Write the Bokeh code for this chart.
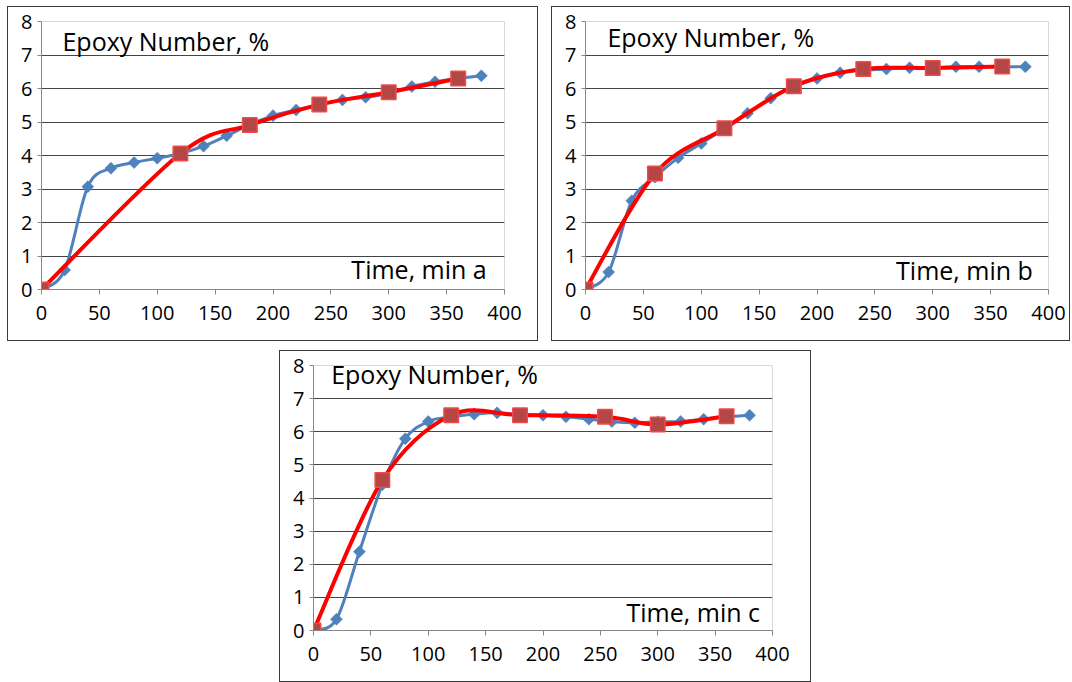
import numpy as np
from bokeh.plotting import figure
from bokeh.models import Label, Spacer, FixedTicker, Range1d
from bokeh.layouts import row, column
from bokeh.embed import file_html
from bokeh.resources import INLINE

# ---------------- data ----------------
time_blue = [0, 20, 40, 60, 80, 100, 120, 140, 160, 180, 200, 220, 240, 260, 280, 300, 320, 340, 360, 380]

epoxy_a_blue = [0, 0.58, 3.07, 3.62, 3.79, 3.92, 4.06, 4.28, 4.59, 4.92, 5.19, 5.36, 5.52, 5.66, 5.74, 5.86, 6.06, 6.2, 6.3, 6.38]
time_a_red = [0, 120, 180, 240, 300, 360]
epoxy_a_red = [0, 4.06, 4.91, 5.52, 5.89, 6.3]

epoxy_b_blue = [0, 0.52, 2.65, 3.35, 3.93, 4.36, 4.8, 5.26, 5.71, 6.05, 6.3, 6.47, 6.55, 6.58, 6.62, 6.62, 6.65, 6.65, 6.65, 6.65]
time_b_red = [0, 60, 120, 180, 240, 300, 360]
epoxy_b_red = [0, 3.46, 4.81, 6.07, 6.58, 6.61, 6.66]

epoxy_c_blue = [0, 0.34, 2.38, 4.4, 5.79, 6.31, 6.45, 6.53, 6.57, 6.52, 6.5, 6.45, 6.38, 6.31, 6.27, 6.3, 6.31, 6.38, 6.45, 6.5]
time_c_red = [0, 60, 120, 180, 254, 300, 360]
epoxy_c_red = [0, 4.54, 6.5, 6.5, 6.45, 6.22, 6.47]

x_ticks = [0, 50, 100, 150, 200, 250, 300, 350, 400]
y_ticks = [0, 1, 2, 3, 4, 5, 6, 7, 8]

y_title = "Epoxy Number, %"
x_titles = ["Time, min a", "Time, min b", "Time, min c"]

FONT = "Open Sans"
BLUE = "#4F81BD"
RED = "#FF0000"


def smooth_segments(xs, ys):
    """Excel-like smoothed line: cubic Bezier control points (Catmull-Rom)."""
    x = np.asarray(xs, float)
    y = np.asarray(ys, float)
    xp = np.concatenate([[x[0]], x, [x[-1]]])
    yp = np.concatenate([[y[0]], y, [y[-1]]])
    n = len(x)
    d = dict(x0=[], y0=[], x1=[], y1=[], cx0=[], cy0=[], cx1=[], cy1=[])
    for i in range(n - 1):
        d["x0"].append(x[i]); d["y0"].append(y[i])
        d["x1"].append(x[i + 1]); d["y1"].append(y[i + 1])
        d["cx0"].append(x[i] + (xp[i + 2] - xp[i]) / 6.0)
        d["cy0"].append(y[i] + (yp[i + 2] - yp[i]) / 6.0)
        d["cx1"].append(x[i + 1] - (xp[i + 3] - xp[i + 1]) / 6.0)
        d["cy1"].append(y[i + 1] - (yp[i + 3] - yp[i + 1]) / 6.0)
    return d


def panel(yb, tr, yr, xtitle, w, h, ml, mr, mt, mb, title_pos, xtitle_pos):
    p = figure(width=w, height=h, x_range=Range1d(0, 400), y_range=Range1d(0, 8),
               output_backend="svg", toolbar_location=None,
               min_border_left=ml, min_border_right=mr,
               min_border_top=mt, min_border_bottom=mb,
               background_fill_color="white", border_fill_color="white")
    p.styles = {"outline": "1px solid #3a3a3a", "outline-offset": "0px"}
    p.outline_line_color = "#D9D9D9"
    p.xgrid.visible = False
    p.ygrid.grid_line_color = "#444444"
    p.ygrid.grid_line_width = 1
    p.xaxis.ticker = FixedTicker(ticks=x_ticks)
    p.yaxis.ticker = FixedTicker(ticks=y_ticks)
    for ax in (p.xaxis[0], p.yaxis[0]):
        ax.axis_line_color = "#868686"
        ax.major_tick_line_color = "#868686"
        ax.minor_tick_line_color = None
        ax.major_tick_in = 0
        ax.major_label_text_font = FONT
        ax.major_label_text_font_size = "20px"
        ax.major_label_text_color = "black"
    p.xaxis.major_tick_out = 5
    p.xaxis.major_label_standoff = 11
    p.yaxis.major_tick_out = 4
    p.yaxis.major_label_standoff = 5

    bb = smooth_segments(time_blue, yb)
    p.bezier(x0=bb["x0"], y0=bb["y0"], x1=bb["x1"], y1=bb["y1"],
             cx0=bb["cx0"], cy0=bb["cy0"], cx1=bb["cx1"], cy1=bb["cy1"],
             line_color=BLUE, line_width=3, line_cap="round")
    p.scatter(time_blue, yb, marker="square", angle=np.pi / 4, size=8.5,
              fill_color=BLUE, line_color=BLUE, line_width=0.5)
    rb = smooth_segments(tr, yr)
    p.bezier(x0=rb["x0"], y0=rb["y0"], x1=rb["x1"], y1=rb["y1"],
             cx0=rb["cx0"], cy0=rb["cy0"], cx1=rb["cx1"], cy1=rb["cy1"],
             line_color=RED, line_width=4, line_cap="round")
    p.scatter(tr, yr, marker="square", size=14.5, fill_color="#B44646",
              line_color="#F24848", line_width=1.5)

    p.add_layout(Label(x=title_pos[0], y=title_pos[1], text=y_title,
                       text_font=FONT, text_font_size="25px", text_color="black",
                       text_baseline="alphabetic", text_align="left"))
    p.add_layout(Label(x=xtitle_pos[0], y=xtitle_pos[1], text=xtitle,
                       text_font=FONT, text_font_size="25px", text_color="black",
                       text_baseline="alphabetic", text_align="left"))
    return p


pa = panel(epoxy_a_blue, time_a_red, epoxy_a_red, x_titles[0],
           529, 333, 33, 33, 14, 51, (18.1, 7.42), (267.7, 0.62))
pb = panel(epoxy_b_blue, time_b_red, epoxy_b_red, x_titles[1],
           517, 333, 33, 21, 13, 50, (18.9, 7.55), (268.3, 0.57))
pc = panel(epoxy_c_blue, time_c_red, epoxy_c_red, x_titles[2],
           530, 330, 33, 38, 14, 51, (15.4, 7.74), (272.8, 0.55))

layout = column(Spacer(height=7),
                row(Spacer(width=8), pa, Spacer(width=15), pb),
                Spacer(height=11),
                row(Spacer(width=280), pc))

open("out.html", "w").write(file_html(layout, INLINE))
